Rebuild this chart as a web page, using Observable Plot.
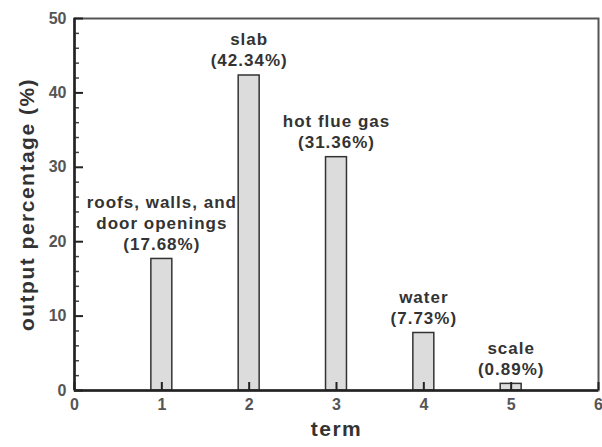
<!DOCTYPE html>
<html>
<head>
<meta charset="utf-8">
<script src="https://cdn.jsdelivr.net/npm/d3@7"></script>
<script src="https://cdn.jsdelivr.net/npm/@observablehq/plot@0.6"></script>
<style>
  html, body { margin: 0; padding: 0; background: #fff; }
  svg { display: block; }
</style>
</head>
<body>
<div id="chart"></div>
<script>
const terms = [1, 2, 3, 4, 5];
const values = [17.68, 42.34, 31.36, 7.73, 0.89];
const names = ["roofs, walls, and\ndoor openings", "slab", "hot flue gas", "water", "scale"];
const xTicks = [0, 1, 2, 3, 4, 5, 6];
const yTicks = [0, 10, 20, 30, 40, 50];
const yMinor = d3.range(0, 50, 2).filter(v => v % 10 !== 0);
const xLabel = "term";
const yLabel = "output percentage (%)";

const data = terms.map((t, i) => ({
  term: t,
  value: values[i],
  label: names[i] + "\n(" + values[i].toFixed(2) + "%)"
}));

const font = "'Liberation Sans', Arial, Helvetica, sans-serif";

const chart = Plot.plot({
  width: 602,
  height: 447,
  marginLeft: 74,
  marginRight: 4,
  marginTop: 18,
  marginBottom: 57,
  style: { fontFamily: font, background: "#fff" },
  x: { domain: [0, 6], ticks: xTicks },
  y: { domain: [0, 50], ticks: yTicks },
  marks: [
    Plot.frame({ stroke: "#555", strokeWidth: 2 }),
    Plot.rectY(data, {
      x1: d => d.term - 0.12,
      x2: d => d.term + 0.12,
      y: "value",
      fill: "#dcdcdc",
      stroke: "#333",
      strokeWidth: 1.5
    }),
    Plot.tickY(yTicks, { y: d => d, insetRight: 515, stroke: "#222", strokeWidth: 2 }),
    Plot.tickY(yMinor, { y: d => d, insetRight: 519, stroke: "#444", strokeWidth: 1.5 }),
    Plot.tickX(xTicks, { x: d => d, insetTop: 364, stroke: "#222", strokeWidth: 2 }),
    Plot.ruleX([0], { stroke: "#222", strokeWidth: 2.5 }),
    Plot.ruleY([0], { stroke: "#222", strokeWidth: 2.5 }),
    Plot.axisY({ ticks: yTicks, tickFormat: d3.format("d"), tickSize: 0, tickPadding: 8, label: null,
      fontSize: 16, fontWeight: "bold", fill: "#555" }),
    Plot.axisX({ ticks: xTicks, tickFormat: d3.format("d"), tickSize: 0, tickPadding: 8, label: null,
      fontSize: 16, fontWeight: "bold", fill: "#555" }),
    Plot.text(data, {
      x: "term",
      y: "value",
      text: "label",
      lineAnchor: "bottom",
      lineHeight: 1.24,
      dy: -9,
      fontSize: 17,
      fontWeight: "bold",
      fill: "#333",
      className: "ann"
    }),
    Plot.text([xLabel], {
      frameAnchor: "bottom",
      dy: 45,
      fontSize: 21,
      fontWeight: "bold",
      fill: "#333",
      className: "axlab"
    }),
    Plot.text([yLabel], {
      frameAnchor: "left",
      textAnchor: "middle",
      rotate: -90,
      dx: -47,
      fontSize: 21,
      fontWeight: "bold",
      fill: "#333",
      className: "axlab"
    })
  ]
});

chart.querySelectorAll(".ann text").forEach(t => { t.style.letterSpacing = "1px"; });
chart.querySelectorAll(".axlab text").forEach(t => { t.style.letterSpacing = "1.5px"; });
document.getElementById("chart").appendChild(chart);
</script>
</body>
</html>
